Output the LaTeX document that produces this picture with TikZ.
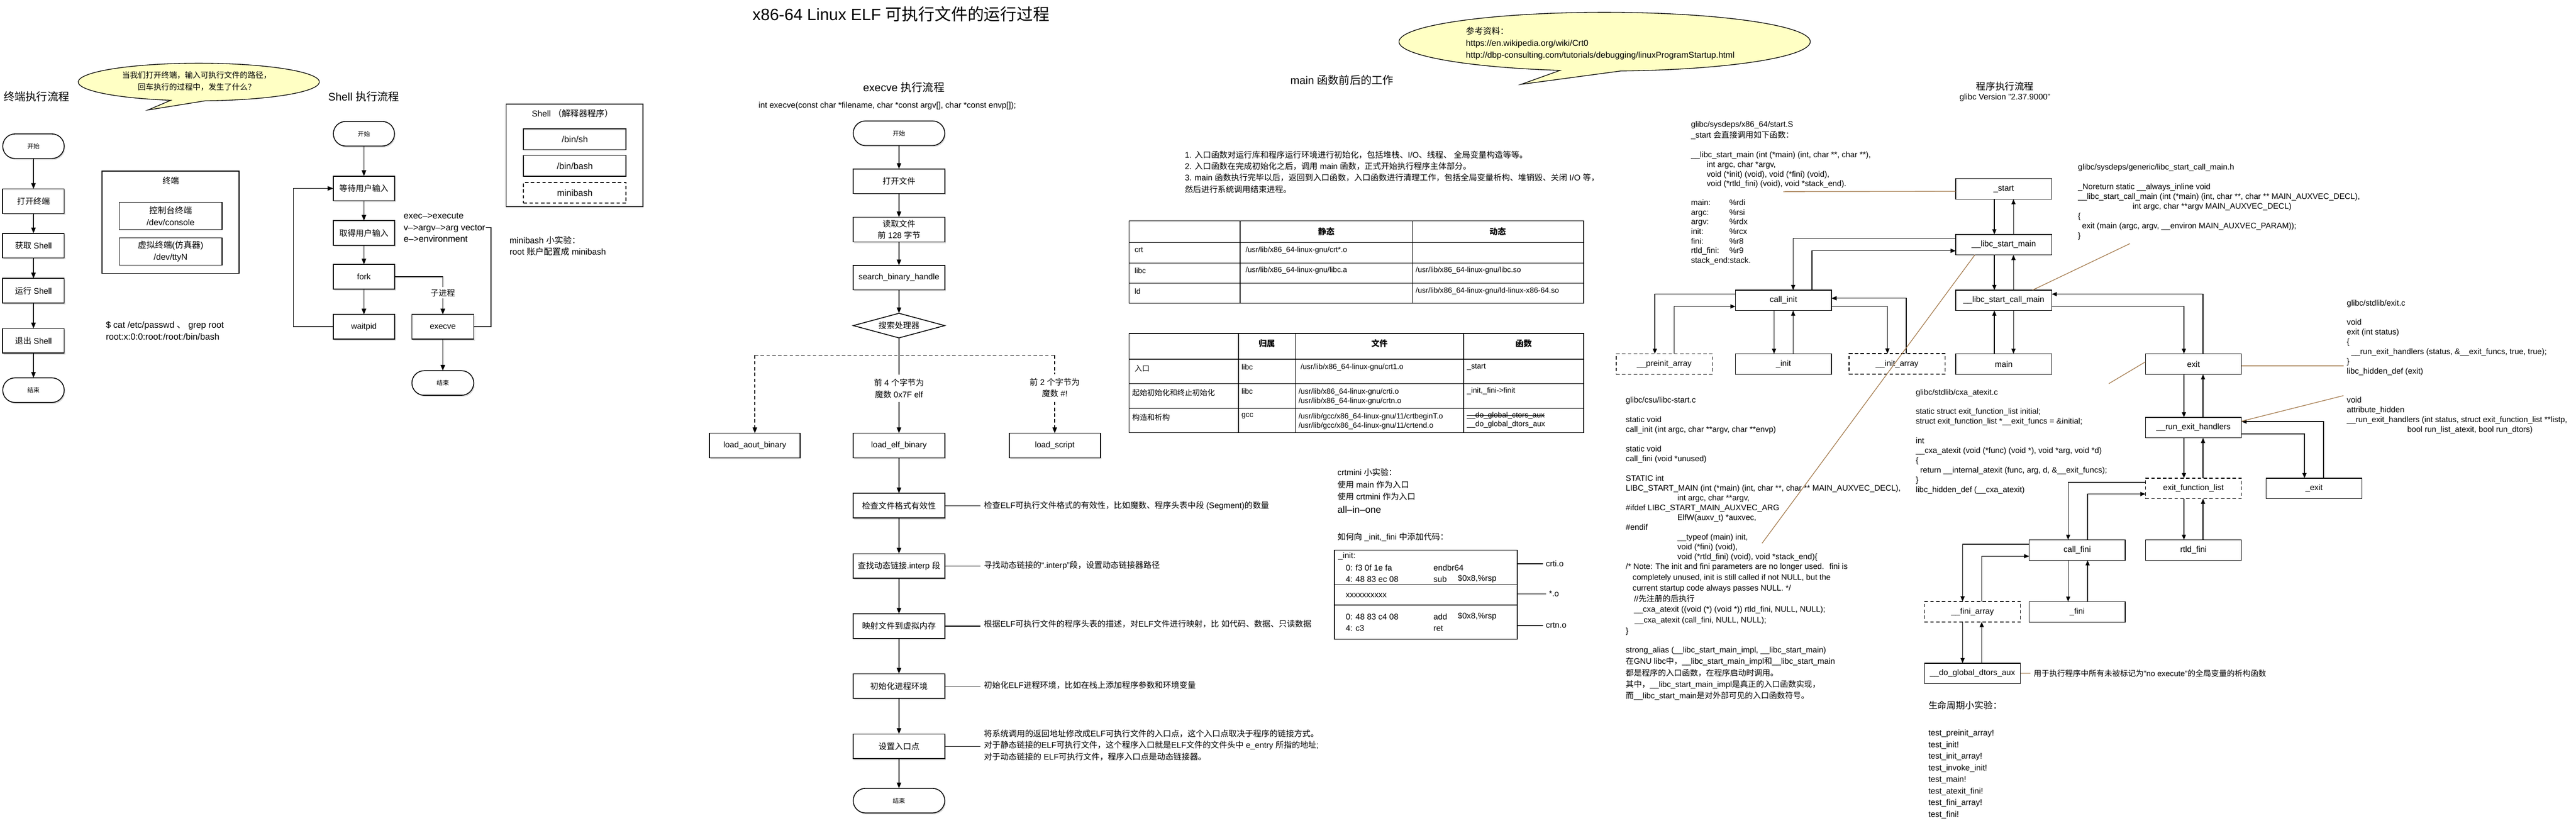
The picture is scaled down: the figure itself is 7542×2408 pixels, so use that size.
\documentclass[tikz,border=0pt]{standalone}
\usepackage{fontspec}
\usetikzlibrary{arrows.meta,shapes.geometric,shadows,calc}
\setmainfont{Liberation Sans}
\newfontfamily\cjkf{Noto Sans CJK SC}
\newfontfamily\latf{Liberation Sans}
\XeTeXinterchartokenstate=1
\newXeTeXintercharclass\cjkcls
\newcount\myc
\myc="2E80
\loop\ifnum\myc<"A000 \XeTeXcharclass\myc=\cjkcls\relax\advance\myc by 1 \repeat
\myc="FF00
\loop\ifnum\myc<"FFF0 \XeTeXcharclass\myc=\cjkcls\relax\advance\myc by 1 \repeat
\XeTeXcharclass"2018=0 \XeTeXcharclass"2019=0 \XeTeXcharclass"201C=0 \XeTeXcharclass"201D=0
\XeTeXinterchartoks 0 \cjkcls = {\cjkf}
\XeTeXinterchartoks 4095 \cjkcls = {\cjkf}
\XeTeXinterchartoks \cjkcls 0 = {\latf}
\XeTeXinterchartoks \cjkcls 4095 = {\latf}
\newcommand\fz[2]{\fontsize{#1}{#2}\selectfont}
\newcommand\zst[1]{\rule{0pt}{#1pt}}
\definecolor{brn}{RGB}{164,122,76}
\definecolor{bub}{RGB}{255,255,196}
\begin{document}
\begin{tikzpicture}[x=1pt,y=-1pt,
  every node/.style={inner sep=0pt,outer sep=0pt},
  tx/.style={anchor=west,font=\fz{#1}{#1}},
  ctx/.style={font=\fz{#1}{#1}},
  hdr/.style={font=\fz{24}{24}\bfseries},
  blk/.style 2 args={anchor=north west,align=left,font=\fz{#1}{#2}},
  flow/.style={draw,line width=2.5pt,fill=white,minimum width=268pt,minimum height=72pt,font=\fz{24}{34},align=center,drop shadow={shadow xshift=3pt,shadow yshift=-4pt,opacity=0.3}},
  term/.style={flow,rounded corners=36pt,font=\fz{18}{18}},
  arr/.style={line width=2.5pt,-{Triangle[length=17pt,width=13pt]}},
  dsh/.style={line width=2.5pt,dash pattern=on 10pt off 7pt},
  plainln/.style={draw,line width=2.5pt},
  gbox/.style={draw,line width=2.2pt,fill=white,minimum width=281pt,minimum height=60pt,font=\fz{24}{24}},
  gdash/.style={gbox,dash pattern=on 10pt off 7pt},
  garr/.style={line width=2pt,-{Triangle[length=15pt,width=12pt]}},
  brownln/.style={draw=brn,line width=2pt},
  bubble/.style={fill=bub,draw=black,line width=2pt},
  lbl/.style={fill=white,inner sep=12pt,align=center,font=\fz{24}{34}},
  sline/.style={line width=2pt,shorten >=10pt},
]
\useasboundingbox (0,0) rectangle (7542,2408);
\fill[white] (0,0) rectangle (7542,2408);

% ---------- title ----------
\node[ctx=48] (title) at (2638,42) {x86-64 Linux ELF 可执行文件的运行过程};

% ---------- bubble 1 ----------
\path[bubble] (500.2,293.5) arc[start angle=103.4,end angle=446.75,x radius=353,y radius=55] -- (433,322) -- cycle;
\node[align=center,font=\fz{23}{34}] (q1) at (576,237) {当我们打开终端，输入可执行文件的路径，\\回车执行的过程中，发生了什么？};

% ---------- terminal flow ----------
\node[tx=32] (ttl1) at (11,283) {终端执行流程};
\node[term,minimum width=180pt] (t0) at (98,428) {开始};
\node[flow,minimum width=180pt] (t1) at (98,589) {打开终端};
\node[flow,minimum width=180pt] (t2) at (98,719) {获取 Shell};
\node[flow,minimum width=180pt] (t3) at (98,851) {运行 Shell};
\node[flow,minimum width=180pt] (t4) at (98,997.5) {退出 Shell};
\node[term,minimum width=180pt] (t5) at (98,1142) {结束};
\foreach \a/\b in {t0/t1,t1/t2,t2/t3,t3/t4,t4/t5} \draw[arr] (\a) -- (\b);

\node[plainln,minimum width=401pt,minimum height=299pt] (tbox) at (499.5,650.5) {};
\node[ctx=24] (tboxl) at (500,529) {终端};
\node[plainln,minimum width=301pt,minimum height=80pt,align=center,font=\fz{25}{34}] (tcon) at (499.5,632) {控制台终端\\/dev/console};
\node[plainln,minimum width=301pt,minimum height=80pt,align=center,font=\fz{25}{34}] (tvir) at (499.5,736) {虚拟终端(仿真器)\\/dev/ttyN};
\node[blk={26}{34}] (cat) at (310,934.4) {\zst{26}\$ cat /etc/passwd 、 grep root\\root:x:0:0:root:/root:/bin/bash};

% ---------- shell flow ----------
\node[tx=32] (ttl2) at (961,283) {Shell 执行流程};
\node[term,minimum width=179pt] (s0) at (1065.5,391.5) {开始};
\node[flow,minimum width=179pt] (s1) at (1065.5,551.5) {等待用户输入};
\node[flow,minimum width=179pt] (s2) at (1065.5,682) {取得用户输入};
\node[flow,minimum width=179pt] (s3) at (1065.5,810) {fork};
\node[flow,minimum width=179pt] (s4) at (1065.5,956.5) {waitpid};
\node[flow,minimum width=181pt] (s5) at (1296.5,956.5) {execve};
\node[term,minimum width=181pt] (s6) at (1296.5,1121) {结束};
\foreach \a/\b in {s0/s1,s1/s2,s2/s3,s3/s4,s5/s6} \draw[arr] (\a) -- (\b);
\coordinate (lp) at (859,551.5);
\draw[arr] (s4.west) -| (lp) -- (s1.west);
\draw[arr] (s3.east) -| (s5.north);
\node[ctx=24,fill=white,inner sep=6pt] (cp) at (1296.5,857) {子进程};
\node[blk={26}{34}] (ex) at (1182,614.4) {\zst{26}exec\textendash{}>execute\\v\textendash{}>argv\textendash{}>arg vector\\e\textendash{}>environment};
\coordinate (brk) at (1423,666);
\draw[line width=2.5pt] (s5.east) -| (1437,666) -- (brk);

\node[plainln,minimum width=400pt,minimum height=300pt] (shb) at (1682,455) {};
\node[ctx=25] (shbl) at (1676,332) {Shell （解释器程序）};
\node[plainln,minimum width=300pt,minimum height=61pt,font=\fz{26}{26}] (bsh) at (1683,407.5) {/bin/sh};
\node[plainln,minimum width=300pt,minimum height=61pt,font=\fz{26}{26}] (bbash) at (1683,485.5) {/bin/bash};
\node[draw,dsh,minimum width=300pt,minimum height=60pt,font=\fz{26}{26}] (mb) at (1683,564) {minibash};
\node[blk={25}{34}] (mbt) at (1492,687) {\zst{25}minibash 小实验：\\root 账户配置成 minibash};

% ---------- execve flow ----------
\node[tx=32] (ttl3) at (2527,255) {execve 执行流程};
\node[tx=24] (sig) at (2221,310) {int execve(const char *filename, char *const argv[], char *const envp[]);};
\node[term] (e0) at (2632,390) {开始};
\node[flow] (e1) at (2632,530.5) {打开文件};
\node[flow] (e2) at (2632,672) {读取文件\\前 128 字节};
\node[flow] (e3) at (2632,812.5) {search\_binary\_handle};
\node[draw,line width=2.5pt,fill=white,diamond,aspect=3.72,minimum width=268pt,minimum height=72pt,font=\fz{24}{24}] (e4) at (2632,953) {搜索处理器};
\foreach \a/\b in {e0/e1,e1/e2,e2/e3,e3/e4} \draw[arr] (\a) -- (\b);
\coordinate (dl) at (2210,1040);
\coordinate (dr) at (3088,1040);
\draw[dsh] (dl) -- (dr);
\node[flow,minimum width=266pt] (aout) at (2210,1304) {load\_aout\_binary};
\node[flow] (elf) at (2632,1304) {load\_elf\_binary};
\node[flow,minimum width=267pt] (scr) at (3088,1304) {load\_script};
\draw[dsh,-{Triangle[length=17pt,width=13pt]}] (dl) -- (aout.north);
\draw[dsh,-{Triangle[length=17pt,width=13pt]}] (dr) -- (scr.north);
\draw[arr] (e4.south) -- (elf.north);
\node[lbl] (l4) at (2632,1137) {前 4 个字节为\\魔数 0x7F elf};
\node[lbl] (l2) at (3088,1135) {前 2 个字节为\\魔数 \#!};
\node[flow] (e5) at (2632,1480) {检查文件格式有效性};
\node[flow] (e6) at (2632,1656.5) {查找动态链接.interp 段};
\node[flow] (e7) at (2632,1832.5) {映射文件到虚拟内存};
\node[flow] (e8) at (2632,2008) {初始化进程环境};
\node[flow] (e9) at (2632,2184.5) {设置入口点};
\node[term] (e10) at (2632,2343.5) {结束};
\foreach \a/\b in {elf/e5,e5/e6,e6/e7,e7/e8,e8/e9,e9/e10} \draw[arr] (\a) -- (\b);
\node[tx=24] (d5) at (2881,1481) {检查ELF可执行文件格式的有效性，比如魔数、程序头表中段 (Segment)的数量};
\node[tx=24] (d6) at (2881,1656) {寻找动态链接的“.interp”段，设置动态链接器路径};
\node[tx=24] (d7) at (2881,1826) {根据ELF可执行文件的程序头表的描述，对ELF文件进行映射，比 如代码、数据、只读数据};
\node[tx=24] (d8) at (2881,2005) {初始化ELF进程环境，比如在栈上添加程序参数和环境变量};
\node[blk={24}{34}] (d9) at (2881,2131.6) {\zst{24}将系统调用的返回地址修改成ELF可执行文件的入口点，这个入口点取决于程序的链接方式。\\对于静态链接的ELF可执行文件，这个程序入口就是ELF文件的文件头中 e\_entry 所指的地址;\\对于动态链接的 ELF可执行文件，程序入口点是动态链接器。};
\foreach \a/\b in {e5/d5,e6/d6,e7/d7,e8/d8,e9/d9} \draw[sline] (\a.east) -- (\a.east -| \b.west);

% ---------- main section ----------
\node[tx=32] (ttl4) at (3778,234) {main 函数前后的工作};
\node[blk={24}{33.7}] (para) at (3469,437.6) {\zst{24}1. 入口函数对运行库和程序运行环境进行初始化，包括堆栈、I/O、线程、 全局变量构造等等。\\2. 入口函数在完成初始化之后，调用 main 函数，正式开始执行程序主体部分。\\3. main 函数执行完毕以后，返回到入口函数，入口函数进行清理工作，包括全局变量析构、堆销毁、关闭 I/O 等，\\然后进行系统调用结束进程。};

\draw[line width=2.2pt] (3306,646) rectangle (4637,888);
\draw[line width=2.2pt] (3631,646) -- (3631,888) (4135,646) -- (4135,888) (3306,710) -- (4637,710) (3306,770) -- (4637,770) (3306,829) -- (4637,829);
\node[hdr] (h1) at (3883,678) {静态};
\node[hdr] (h2) at (4385,678) {动态};
\node[tx=22] (c11) at (3322,732) {crt};
\node[tx=22] (c12) at (3647,732) {/usr/lib/x86\_64-linux-gnu/crt*.o};
\node[tx=22] (c21) at (3322,792) {libc};
\node[tx=22] (c22) at (3647,792) {/usr/lib/x86\_64-linux-gnu/libc.a};
\node[tx=22] (c23) at (4145,792) {/usr/lib/x86\_64-linux-gnu/libc.so};
\node[tx=22] (c31) at (3322,852) {ld};
\node[tx=22] (c33) at (4145,852) {/usr/lib/x86\_64-linux-gnu/ld-linux-x86-64.so};

\draw[line width=2.2pt] (3306,976) rectangle (4637,1266);
\draw[line width=2.2pt] (3626,976) -- (3626,1266) (3793,976) -- (3793,1266) (4285,976) -- (4285,1266) (3306,1051) -- (4637,1051) (3306,1123) -- (4637,1123) (3306,1195) -- (4637,1195);
\node[hdr] (g1) at (3709,1005) {归属};
\node[hdr] (g2) at (4039,1005) {文件};
\node[hdr] (g3) at (4461,1005) {函数};
\node[tx=22] (r11) at (3322,1078) {入口};
\node[tx=22] (r12) at (3635,1075) {libc};
\node[tx=22] (r13) at (3808,1075) {/usr/lib/x86\_64-linux-gnu/crt1.o};
\node[tx=22] (r14) at (4295,1075) {\_start};
\node[tx=22] (r21) at (3315,1149) {起始初始化和终止初始化};
\node[tx=22] (r22) at (3635,1145) {libc};
\node[blk={22}{27}] (r23) at (3802,1131) {\zst{22}/usr/lib/x86\_64-linux-gnu/crti.o\\/usr/lib/x86\_64-linux-gnu/crtn.o};
\node[tx=22] (r24) at (4295,1145) {\_init,\_fini->finit};
\node[tx=22] (r31) at (3315,1221) {构造和析构};
\node[tx=22] (r32) at (3635,1217) {gcc};
\node[blk={22}{27}] (r33) at (3802,1203) {\zst{22}/usr/lib/gcc/x86\_64-linux-gnu/11/crtbeginT.o\\/usr/lib/gcc/x86\_64-linux-gnu/11/crtend.o};
\node[tx=22] (r34a) at (4295,1217) {\_\_do\_global\_ctors\_aux};
\node[tx=22] (r34b) at (4295,1243) {\_\_do\_global\_dtors\_aux};
\draw[line width=1.6pt] ([yshift=1pt]r34a.west) -- ([yshift=1pt]r34a.east);

% ---------- bubble 2 ----------
\path[bubble] (4567.7,206) arc[start angle=102.5,end angle=445.5,x radius=602,y radius=86] -- (4453,247) -- cycle;
\node[blk={25}{34}] (q2) at (4292,76) {\zst{25}参考资料：\\https://en.wikipedia.org/wiki/Crt0\\http://dbp-consulting.com/tutorials/debugging/linuxProgramStartup.html};

% ---------- crtmini ----------
\node[blk={24}{35.5}] (cm) at (3916,1367.6) {\zst{24}crtmini 小实验：\\使用 main 作为入口\\使用 crtmini 作为入口};
\node[tx=28] (aio) at (3916,1491) {all\textendash{}in\textendash{}one};
\node[tx=24] (howto) at (3916,1572) {如何向 \_init,\_fini 中添加代码：};
\node[draw,line width=2.2pt,minimum width=535pt,minimum height=261pt] (cbox) at (4174.5,1740.5) {};
\draw[line width=2.2pt] (3907,1711) -- (4442,1711) (3907,1771) -- (4442,1771);
\node[tx=24] (k0) at (3918,1628) {\_init:};
\node[tx=24] (k1) at (3940,1662) {0: f3 0f 1e fa};
\node[tx=24] (k1b) at (4197,1662) {endbr64};
\node[tx=24] (k2) at (3940,1695) {4: 48 83 ec 08};
\node[tx=24] (k2b) at (4197,1695) {sub};
\node[tx=24] (k2c) at (4268,1695) {\$0x8,\%rsp};
\node[tx=24] (k3) at (3940,1743) {xxxxxxxxxx};
\node[tx=24] (k4) at (3940,1805) {0: 48 83 c4 08};
\node[tx=24] (k4b) at (4197,1805) {add};
\node[tx=24] (k4c) at (4268,1805) {\$0x8,\%rsp};
\node[tx=24] (k5) at (3940,1839) {4: c3};
\node[tx=24] (k5b) at (4197,1839) {ret};
\node[tx=24] (lc1) at (4526,1650) {crti.o};
\node[tx=24] (lc2) at (4535,1738) {*.o};
\node[tx=24] (lc3) at (4526,1831) {crtn.o};
\foreach \b in {lc1,lc2,lc3} \draw[line width=2pt,shorten >=9pt] (cbox.east |- \b.west) -- (\b.west);

% ---------- glibc program flow ----------
\node[ctx=28] (ttl5) at (5870,252) {程序执行流程};
\node[ctx=24] (ver) at (5870,285) {glibc Version "2.37.9000"};
\node[blk={23.5}{32}] (sa) at (4951,348) {\zst{23.5}glibc/sysdeps/x86\_64/start.S\\\_start 会直接调用如下函数：};
\node[blk={23.5}{28}] (sb) at (4951,438) {\zst{23.5}\_\_libc\_start\_main (int (*main) (int, char **, char **),\\\hspace*{46pt}int argc, char *argv,\\\hspace*{46pt}void (*init) (void), void (*fini) (void),\\\hspace*{46pt}void (*rtld\_fini) (void), void *stack\_end).};
\node[blk={23.5}{28}] (sc) at (4951,578) {\zst{23.5}main:\\argc:\\argv:\\init:\\fini:\\rtld\_fini:\\stack\_end:stack.};
\node[blk={23.5}{28}] (sd) at (5063,578) {\zst{23.5}\%rdi\\\%rsi\\\%rdx\\\%rcx\\\%r8\\\%r9};

\node[gbox] (gstart) at (5866.5,553) {\_start};
\node[gbox] (glsm) at (5866.5,716) {\_\_libc\_start\_main};
\node[gbox] (glscm) at (5866.5,879) {\_\_libc\_start\_call\_main};
\node[gbox] (gmain) at (5866.5,1065.5) {main};
\node[gbox] (gcinit) at (5221.5,879) {call\_init};
\node[gdash] (gpre) at (4872.5,1065.5) {\_\_preinit\_array};
\node[gbox] (ginit) at (5221.5,1065.5) {\_init};
\node[gdash] (giarr) at (5554,1065) {\_\_init\_array};
\node[gbox] (gexit) at (6422,1065.5) {exit};
\node[gbox] (grun) at (6422,1251.5) {\_\_run\_exit\_handlers};
\node[gdash] (gefl) at (6422,1429.5) {exit\_function\_list};
\node[gbox] (gxexit) at (6775,1429.5) {\_exit};
\node[gbox] (grtld) at (6422,1610) {rtld\_fini};
\node[gbox] (gcfini) at (6081.5,1610) {call\_fini};
\node[gbox] (gfini) at (6081.5,1791) {\_fini};
\node[gdash] (gfarr) at (5775,1790.5) {\_\_fini\_array};
\node[gbox] (gdtors) at (5775,1971) {\_\_do\_global\_dtors\_aux};

\draw[garr] ([xshift=-27.5pt]gstart.south) -- ([xshift=-27.5pt]glsm.north);
\draw[garr] ([xshift=28.5pt]glsm.north) -- ([xshift=28.5pt]gstart.south);
\draw[garr] ([xshift=-27.5pt]glsm.south) -- ([xshift=-27.5pt]glscm.north);
\draw[garr] ([xshift=28.5pt]glscm.north) -- ([xshift=28.5pt]glsm.south);
\draw[garr] ([xshift=-27.5pt]gmain.north) -- ([xshift=-27.5pt]glscm.south);
\draw[garr] ([xshift=28.5pt]glscm.south) -- ([xshift=28.5pt]gmain.north);
\draw[garr] ([yshift=18pt]glsm.west) -| ([xshift=28.5pt]gcinit.north);
\draw[garr] ([xshift=83.5pt]gcinit.north) |- ([yshift=-18pt]glsm.west);
\draw[garr] ([yshift=18pt]gcinit.west) -| ([xshift=-27.5pt]gpre.north);
\draw[garr] ([xshift=28.5pt]gpre.north) |- ([yshift=-18pt]gcinit.west);
\draw[garr] ([xshift=-27.5pt]gcinit.south) -- ([xshift=-27.5pt]ginit.north);
\draw[garr] ([xshift=28.5pt]ginit.north) -- ([xshift=28.5pt]gcinit.south);
\draw[garr] ([yshift=-18pt]gcinit.east) -| ([xshift=-28pt]giarr.north);
\draw[garr] ([xshift=27pt]giarr.north) |- ([yshift=6pt]gcinit.east);
\draw[garr] ([yshift=-18pt]glscm.east) -| ([xshift=-28pt]gexit.north);
\draw[garr] ([xshift=28pt]gexit.north) |- ([yshift=18pt]glscm.east);
\draw[garr] ([xshift=-28pt]gexit.south) -- ([xshift=-28pt]grun.north);
\draw[garr] ([xshift=28pt]grun.north) -- ([xshift=28pt]gexit.south);
\draw[garr] ([xshift=-28pt]grun.south) -- ([xshift=-28pt]gefl.north);
\draw[garr] ([xshift=28pt]gefl.north) -- ([xshift=28pt]grun.south);
\draw[garr] ([yshift=-18.5pt]grun.east) -| ([xshift=-28pt]gxexit.north);
\draw[garr] ([xshift=28pt]gxexit.north) |- ([yshift=17.5pt]grun.east);
\draw[garr] ([xshift=-28pt]gefl.south) -- ([xshift=-28pt]grtld.north);
\draw[garr] ([xshift=28pt]grtld.north) -- ([xshift=28pt]gefl.south);
\draw[garr] ([yshift=17.5pt]gefl.west) -| ([xshift=-26.5pt]gcfini.north);
\draw[garr] ([xshift=30.5pt]gcfini.north) |- ([yshift=-16.5pt]gefl.west);
\draw[garr] ([xshift=-26.5pt]gcfini.south) -- ([xshift=-26.5pt]gfini.north);
\draw[garr] ([xshift=30.5pt]gfini.north) -- ([xshift=30.5pt]gcfini.south);
\draw[garr] ([yshift=17pt]gcfini.west) -| ([xshift=-29pt]gfarr.north);
\draw[garr] ([xshift=27pt]gfarr.north) |- ([yshift=-18pt]gcfini.west);
\draw[garr] ([xshift=-29pt]gfarr.south) -- ([xshift=-29pt]gdtors.north);
\draw[garr] ([xshift=27pt]gdtors.north) -- ([xshift=27pt]gfarr.south);

% code texts
\node[blk={23.5}{28.6}] (lsa) at (4760,1156) {\zst{23.5}glibc/csu/libc-start.c\\[28.6pt]static void\\call\_init (int argc, char **argv, char **envp)\\[28.6pt]static void\\call\_fini (void *unused)\\[28.6pt]STATIC int\\LIBC\_START\_MAIN (int (*main) (int, char **, char ** MAIN\_AUXVEC\_DECL),\\\hspace*{151pt}int argc, char **argv,\\\#ifdef LIBC\_START\_MAIN\_AUXVEC\_ARG\\\hspace*{151pt}ElfW(auxv\_t) *auxvec,\\\#endif\\\hspace*{151pt}\_\_typeof (main) init,\\\hspace*{151pt}void (*fini) (void),\\\hspace*{151pt}void (*rtld\_fini) (void), void *stack\_end)\{};
\node[blk={23.5}{31.3}] (lsb) at (4760,1643) {\zst{23.5}/* Note: The init and fini parameters are no longer used.~ fini is\\\hspace*{20pt}completely unused, init is still called if not NULL, but the\\\hspace*{20pt}current startup code always passes NULL. */\\\hspace*{24pt}//先注册的后执行\\\hspace*{24pt}\_\_cxa\_atexit ((void (*) (void *)) rtld\_fini, NULL, NULL);\\\hspace*{26pt}\_\_cxa\_atexit (call\_fini, NULL, NULL);\\\}};
\node[blk={23.5}{33.5}] (lsc) at (4760,1887) {\zst{23.5}strong\_alias (\_\_libc\_start\_main\_impl, \_\_libc\_start\_main)\\在GNU libc中，\_\_libc\_start\_main\_impl和\_\_libc\_start\_main\\都是程序的入口函数，在程序启动时调用。\\其中，\_\_libc\_start\_main\_impl是真正的入口函数实现，\\而\_\_libc\_start\_main是对外部可见的入口函数符号。};
\node[blk={23.5}{28.6}] (cxa) at (5609,1132) {\zst{23.5}glibc/stdlib/cxa\_atexit.c\\[28.6pt]static struct exit\_function\_list initial;\\struct exit\_function\_list *\_\_exit\_funcs = \&initial;\\[28.6pt]int\\\_\_cxa\_atexit (void (*func) (void *), void *arg, void *d)\\\{\\\hspace*{13pt}return \_\_internal\_atexit (func, arg, d, \&\_\_exit\_funcs);\\\}\\libc\_hidden\_def (\_\_cxa\_atexit)};
\node[blk={23.5}{28.7}] (lscmt) at (6084,473) {\zst{23.5}glibc/sysdeps/generic/libc\_start\_call\_main.h\\[28.7pt]\_Noreturn static \_\_always\_inline void\\\_\_libc\_start\_call\_main (int (*main) (int, char **, char ** MAIN\_AUXVEC\_DECL),\\\hspace*{160pt}int argc, char **argv MAIN\_AUXVEC\_DECL)\\\{\\\hspace*{12pt}exit (main (argc, argv, \_\_environ MAIN\_AUXVEC\_PARAM));\\\}};
\node[blk={23.5}{28.6}] (exa) at (6871,871) {\zst{23.5}glibc/stdlib/exit.c\\[28.6pt]void\\exit (int status)\\\{\\\hspace*{13pt}\_\_run\_exit\_handlers (status, \&\_\_exit\_funcs, true, true);\\\}\\libc\_hidden\_def (exit)};
\node[blk={23.5}{28.6}] (exb) at (6871,1155) {\zst{23.5}void\\attribute\_hidden\\\_\_run\_exit\_handlers (int status, struct exit\_function\_list **listp,\\\hspace*{177pt}bool run\_list\_atexit, bool run\_dtors)};

\node[tx=23] (dt) at (5954,1971) {用于执行程序中所有未被标记为"no execute"的全局变量的析构函数};
\node[tx=27] (lc) at (5646,2065) {生命周期小实验：};
\node[blk={24}{34}] (tl) at (5646,2129.6) {\zst{24}test\_preinit\_array!\\test\_init!\\test\_init\_array!\\test\_invoke\_init!\\test\_main!\\test\_atexit\_fini!\\test\_fini\_array!\\test\_fini!};

% brown pointer lines
\coordinate (b1) at (5221,561);
\coordinate (b2) at (5159,1590);
\coordinate (b3) at (6236,713);
\coordinate (b4) at (6861,1071);
\coordinate (b5) at (6174,1123);
\coordinate (b6) at (6861,1158);
\draw[brownln] (b1) -- ([yshift=-7pt]gstart.west);
\draw[brownln] ([xshift=-84.5pt]glsm.south) -- (b2);
\draw[brownln] (b3) -- ([xshift=84.5pt]glscm.north);
\draw[brownln] ([yshift=-5.5pt]gexit.east) -- (b4);
\draw[brownln] ([yshift=6.5pt]gexit.west) -- (b5);
\draw[brownln] (b6) -- ([yshift=18.5pt]grun.east);
\draw[brownln,shorten >=9pt] (gdtors.east) -- (dt.west);
\end{tikzpicture}
\end{document}
